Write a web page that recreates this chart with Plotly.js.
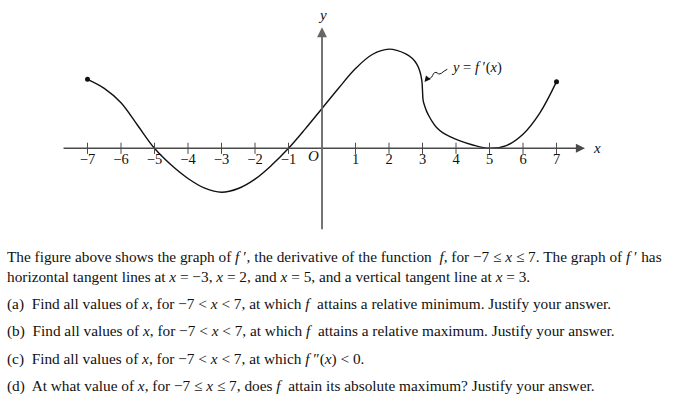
<!DOCTYPE html>
<html>
<head>
<meta charset="utf-8">
<script src="https://cdn.plot.ly/plotly-3.0.1.min.js"></script>
<style>
html,body{margin:0;padding:0;background:#fff;}
#chart{width:681px;height:415px;}
</style>
</head>
<body>
<div id="chart"></div>
<script>
// Curve of f'(x)
const curveX = [-7, -6.5, -6, -5.5, -5, -4.5, -4, -3.5, -3, -2.5, -2, -1.5, -1, -0.5, 0, 0.5, 1, 1.5, 2, 2.5, 2.7, 2.83, 2.92, 2.98, 3, 3.02, 3.07, 3.12, 3.2, 3.3, 3.42, 3.6, 3.82, 4.1, 4.5, 5, 5.5, 6, 6.5, 7];
const curveY = [2.06, 1.79, 1.36, 0.68, 0, -0.5, -0.9, -1.19, -1.31, -1.2, -0.92, -0.5, 0, 0.58, 1.19, 1.8, 2.38, 2.8, 2.96, 2.82, 2.68, 2.51, 2.3, 2.02, 1.72, 1.42, 1.25, 1.11, 0.95, 0.78, 0.62, 0.47, 0.35, 0.23, 0.1, 0, 0.08, 0.42, 1.05, 1.99];
const endX = [-7, 7];
const endY = [2.06, 1.99];
const xTicks = [-7, -6, -5, -4, -3, -2, -1, 1, 2, 3, 4, 5, 6, 7];
const xTickText = ['\u22127', '\u22126', '\u22125', '\u22124', '\u22123', '\u22122', '\u22121', '1', '2', '3', '4', '5', '6', '7'];
const curveLabel = '<i>y</i> = <i>f</i> \u2032(<i>x</i>)';
const textLines = [
  'The figure above shows the graph of <i>f</i> \u2032, the derivative of the function  <i>f</i>, for \u22127 \u2264 <i>x</i> \u2264 7. The graph of <i>f</i> \u2032 has',
  'horizontal tangent lines at <i>x</i> = \u22123, <i>x</i> = 2, and <i>x</i> = 5, and a vertical tangent line at <i>x</i> = 3.',
  '(a)  Find all values of <i>x</i>, for \u22127 &lt; <i>x</i> &lt; 7, at which <i>f</i>  attains a relative minimum. Justify your answer.',
  '(b)  Find all values of <i>x</i>, for \u22127 &lt; <i>x</i> &lt; 7, at which <i>f</i>  attains a relative maximum. Justify your answer.',
  '(c)  Find all values of <i>x</i>, for \u22127 &lt; <i>x</i> &lt; 7, at which <i>f</i> \u2033(<i>x</i>) &lt; 0.',
  '(d)  At what value of <i>x</i>, for \u22127 \u2264 <i>x</i> \u2264 7, does <i>f</i>  attain its absolute maximum? Justify your answer.'
];
const textY = [-0.0708, -0.154, -0.265, -0.379, -0.494, -0.608];

const serif = 'Liberation Serif, Times New Roman, serif';
const axisCol = '#4a4a4a';

const traces = [
  {x: curveX, y: curveY, mode: 'lines', line: {color: '#111', width: 1.4, shape: 'spline', smoothing: 1}, hoverinfo: 'skip', showlegend: false},
  {x: endX, y: endY, mode: 'markers', marker: {color: '#111', size: 5}, hoverinfo: 'skip', showlegend: false},
  {x: xTicks, y: xTicks.map(() => 0), mode: 'markers', marker: {symbol: 'line-ns-open', size: 8, color: axisCol, line: {color: axisCol, width: 1}}, hoverinfo: 'skip', showlegend: false}
];

const annotations = [
  // x axis with arrow
  {x: 7.85, y: 0, ax: -7.76, ay: 0, xref: 'x', yref: 'y', axref: 'x', ayref: 'y', showarrow: true, arrowhead: 2, arrowsize: 1.3, arrowwidth: 1.4, arrowcolor: axisCol, text: ''},
  // y axis with arrow
  {x: 0, y: 3.61, ax: 0, ay: -2.46, xref: 'x', yref: 'y', axref: 'x', ayref: 'y', showarrow: true, arrowhead: 2, arrowsize: 1.1, arrowwidth: 1.8, arrowcolor: '#666', text: ''},
  {x: 8.02, y: 0, xref: 'x', yref: 'y', text: '<i>x</i>', showarrow: false, xanchor: 'left', yanchor: 'middle', font: {family: serif, size: 15, color: '#111'}},
  {x: 0, y: 3.98, xref: 'x', yref: 'y', text: '<i>y</i>', showarrow: false, xanchor: 'center', yanchor: 'middle', font: {family: serif, size: 15, color: '#111'}},
  {x: -0.24, y: -0.24, xref: 'x', yref: 'y', text: '<i>O</i>', showarrow: false, xanchor: 'center', yanchor: 'middle', font: {family: serif, size: 15, color: '#111'}},
  // curve label
  {x: 3.78, y: 2.4, xref: 'x', yref: 'y', text: curveLabel, showarrow: false, xanchor: 'left', yanchor: 'middle', font: {family: serif, size: 14.5, color: '#111'}},
  // arrow head of leader
  {x: 3.06, y: 1.98, ax: 3.14, ay: 2.08, xref: 'x', yref: 'y', axref: 'x', ayref: 'y', showarrow: true, arrowhead: 2, arrowsize: 1.2, arrowwidth: 1, arrowcolor: '#111', text: ''}
];
textLines.forEach((t, i) => {
  annotations.push({x: 0.0073, y: textY[i], xref: 'paper', yref: 'paper', text: t, showarrow: false, xanchor: 'left', yanchor: 'middle', align: 'left', font: {family: serif, size: 15.3, color: '#111'}});
});

const layout = {
  width: 681, height: 415,
  margin: {l: 0, r: 0, t: 0, b: 175, pad: 0},
  paper_bgcolor: '#fff', plot_bgcolor: '#fff',
  showlegend: false,
  xaxis: {range: [-9.612, 10.716], showgrid: false, zeroline: false, showline: false, ticks: '',
          tickmode: 'array', tickvals: xTicks, ticktext: xTickText, anchor: 'free', position: 0.382,
          tickfont: {family: serif, size: 14.5, color: '#111'}, fixedrange: true},
  yaxis: {range: [-2.737, 4.427], visible: false, showgrid: false, zeroline: false, fixedrange: true},
  shapes: [
    {type: 'path', xref: 'x', yref: 'y', path: 'M 3.74,2.36 C 3.62,2.30 3.58,2.24 3.52,2.22 C 3.46,2.20 3.42,2.30 3.36,2.26 C 3.30,2.22 3.30,2.12 3.24,2.10 C 3.18,2.08 3.14,2.06 3.12,2.05', line: {color: '#111', width: 1}}
  ],
  annotations: annotations
};

Plotly.newPlot('chart', traces, layout, {staticPlot: true, displayModeBar: false});
</script>
</body>
</html>
